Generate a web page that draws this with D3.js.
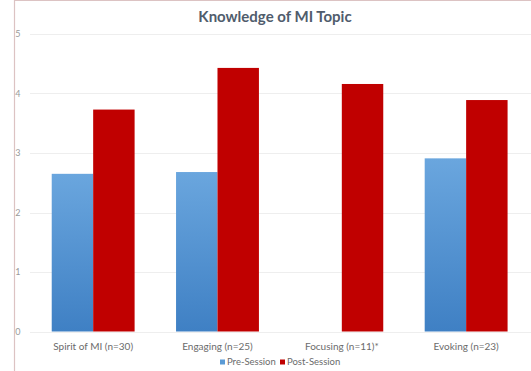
<!DOCTYPE html>
<html><head><meta charset="utf-8">
<script src="https://cdn.jsdelivr.net/npm/d3@7"></script>
<style>
html,body{margin:0;padding:0;background:#fff;}
svg{display:block;font-family:Lato,"Open Sans",sans-serif;}
</style></head>
<body>
<svg id="chart" width="531" height="371"></svg>
<script>
const title = "Knowledge of MI Topic";
const categories = ["Spirit of MI (n=30)", "Engaging (n=25)", "Focusing (n=11)*", "Evoking (n=23)"];
const seriesNames = ["Pre-Session", "Post-Session"];
const preSession = [2.65, 2.68, null, 2.91];
const postSession = [3.73, 4.43, 4.16, 3.89];
const yTicks = [0, 1, 2, 3, 4, 5];
const seriesColors = ["#5b9bd5", "#c00000"];

const svg = d3.select("#chart");
const W = 531, H = 371;

svg.append("rect").attr("x", 0).attr("y", 0).attr("width", W).attr("height", H).attr("fill", "#fff");
svg.append("line").attr("x1", 14.5).attr("x2", 14.5).attr("y1", 0).attr("y2", H).attr("stroke", "#dcc3c3").attr("stroke-width", 1.2);
svg.append("line").attr("x1", 14).attr("x2", W).attr("y1", 0.5).attr("y2", 0.5).attr("stroke", "#dcc3c3").attr("stroke-width", 1.2);

const defs = svg.append("defs");
const gb = defs.append("linearGradient").attr("id", "gBlue").attr("x1", 0).attr("x2", 0).attr("y1", 0).attr("y2", 1);
gb.append("stop").attr("offset", "0%").attr("stop-color", "#6aa6de");
gb.append("stop").attr("offset", "100%").attr("stop-color", "#3f80c4");

const y = d3.scaleLinear().domain([0, 5]).range([331.5, 34]);
const x0 = d3.scaleBand().domain(categories).range([31, 528.3]).paddingInner(1/3).paddingOuter(1/6);
const x1 = d3.scaleBand().domain(seriesNames).range([0, x0.bandwidth()]);

svg.append("g").selectAll("line").data(yTicks).join("line")
  .attr("x1", 30).attr("x2", W)
  .attr("y1", d => Math.round(y(d)) + 0.5).attr("y2", d => Math.round(y(d)) + 0.5)
  .attr("stroke", "#eeeeee").attr("stroke-width", 1);

const yAxis = d3.axisLeft(y).tickValues(yTicks).tickSize(0).tickPadding(0).tickFormat(d3.format("d"));
const ya = svg.append("g").attr("transform", "translate(20.5,0)").call(yAxis);
ya.select(".domain").remove();
ya.selectAll("text").attr("fill", "#999").attr("font-size", 9).attr("font-family", "Lato,'Open Sans',sans-serif");

const data = categories.map((c, i) => ({cat: c, vals: [preSession[i], postSession[i]]}));
const groups = svg.append("g").selectAll("g").data(data).join("g")
  .attr("transform", d => `translate(${x0(d.cat)},0)`);
groups.selectAll("rect").data(d => d.vals.map((v, j) => ({s: seriesNames[j], j, v})).filter(e => e.v != null))
  .join("rect")
  .attr("x", e => x1(e.s))
  .attr("width", x1.bandwidth())
  .attr("y", e => y(e.v))
  .attr("height", e => y(0) - y(e.v))
  .attr("fill", e => e.j === 0 ? "url(#gBlue)" : seriesColors[1]);

const xAxis = d3.axisBottom(x0).tickSize(0).tickPadding(0);
const xa = svg.append("g").attr("transform", "translate(0,346)").call(xAxis);
xa.select(".domain").remove();
xa.selectAll("text").attr("fill", "#6b6b6b").attr("font-size", 10).attr("dy", "0.35em").attr("font-family", "Lato,'Open Sans',sans-serif");

svg.append("text").attr("x", 275).attr("y", 22).attr("text-anchor", "middle")
  .attr("font-size", 15).attr("font-weight", "bold").attr("fill", "#505c6c").text(title);

const legendItems = [{name: seriesNames[0], x: 220, fill: "#5b9bd5"}, {name: seriesNames[1], x: 280, fill: seriesColors[1]}];
const lg = svg.append("g").selectAll("g").data(legendItems).join("g").attr("transform", d => `translate(${d.x},362)`);
lg.append("rect").attr("x", 0).attr("y", -2.5).attr("width", 5).attr("height", 5).attr("fill", d => d.fill);
lg.append("text").attr("x", 7).attr("y", 0).attr("dy", "0.35em").attr("font-size", 9.5).attr("fill", "#6b6b6b").text(d => d.name);
</script>
</body></html>
